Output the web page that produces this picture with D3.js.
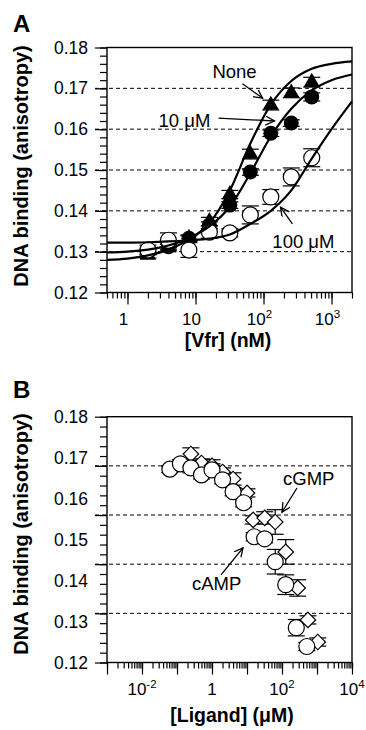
<!DOCTYPE html>
<html>
<head>
<meta charset="utf-8">
<script src="https://cdn.jsdelivr.net/npm/d3@7"></script>
<style>
  body { margin: 0; background: #fff; }
  svg { display: block; }
  text { font-family: "Liberation Sans", Arial, Helvetica, sans-serif; }
</style>
</head>
<body>
<svg id="fig" width="366" height="730"></svg>
<script>
// ---- Panel A data: anisotropy vs [Vfr] (nM) ----
const vfrNM = [2, 4, 8, 16, 32, 64, 128, 256, 512];
const noneAniso = [0.1292, 0.1310, 0.1333, 0.1374, 0.1440, 0.1539, 0.1659, 0.1689, 0.1715];
const noneErr   = [0.0008, 0.0008, 0.0008, 0.0010, 0.0010, 0.0012, 0.0012, 0.0012, 0.0012];
const cAMP10Aniso = [0.1300, 0.1312, 0.1333, 0.1365, 0.1414, 0.1495, 0.1590, 0.1615, 0.1679];
const cAMP10Err   = [0.0006, 0.0006, 0.0006, 0.0008, 0.0008, 0.0008, 0.0008, 0.0008, 0.0010];
const cAMP100Aniso = [0.1304, 0.1328, 0.1304, 0.1348, 0.1346, 0.1390, 0.1434, 0.1483, 0.1530];
const cAMP100Err   = [0.0012, 0.0018, 0.0018, 0.0015, 0.0010, 0.0022, 0.0018, 0.0022, 0.0022];

// fitted curves
const fitVfr  = [0.5, 1, 2, 4, 8, 16, 32, 64, 128, 256, 512, 1000, 2000];
const fitNone = [0.1280, 0.1283, 0.1291, 0.1305, 0.1330, 0.1370, 0.1450, 0.1565, 0.1660, 0.1718, 0.1748, 0.1760, 0.1766];
const fit10   = [0.1298, 0.1300, 0.1305, 0.1315, 0.1333, 0.1362, 0.1410, 0.1492, 0.1582, 0.1650, 0.1695, 0.1720, 0.1734];
const fit100  = [0.1322, 0.1322, 0.1323, 0.1325, 0.1328, 0.1332, 0.1342, 0.1368, 0.1400, 0.1450, 0.1528, 0.1600, 0.1668];

// ---- Panel B data: anisotropy vs [ligand] (uM) ----
const campUM = [0.0625, 0.125, 0.25, 0.5, 1, 2, 4, 8, 16, 32, 64, 128, 256, 512];
const campAniso = [0.1672, 0.1685, 0.1675, 0.1658, 0.1670, 0.1646, 0.1617, 0.1590, 0.1507, 0.1502, 0.1446, 0.1390, 0.1285, 0.1239];
const campErr   = [0.0008, 0.0010, 0.0012, 0.0010, 0.0015, 0.0010, 0.0010, 0.0010, 0.0010, 0.0010, 0.0030, 0.0024, 0.0020, 0.0010];
const cgmpUM = [0.25, 0.5, 1, 2, 4, 10, 15, 32, 64, 128, 280, 550, 1050];
const cgmpAniso = [0.1709, 0.1687, 0.1680, 0.1665, 0.1648, 0.1614, 0.1548, 0.1553, 0.1543, 0.1470, 0.1382, 0.1304, 0.1250];
const cgmpErr   = [0.0015, 0.0010, 0.0015, 0.0010, 0.0015, 0.0010, 0.0010, 0.0015, 0.0030, 0.0030, 0.0020, 0.0010, 0.0010];

// ---- tick labels ----
const yLabelsA = [0.12, 0.13, 0.14, 0.15, 0.16, 0.17, 0.18];
const yLabelsB = [0.12, 0.13, 0.14, 0.15, 0.16, 0.17, 0.18];
const yTicksB  = [0.12, 0.132, 0.144, 0.156, 0.168, 0.18];
const xLabelVA = [1, 10, 100, 1000];
const xLabelBA = ["1", "10", "10", "10"];
const xLabelEA = ["", "", "2", "3"];
const xLabelVB = [0.01, 1, 100, 10000];
const xLabelBB = ["10", "1", "10", "10"];
const xLabelEB = ["-2", "", "2", "4"];

const svg = d3.select("#fig");
const left = 107, right = 352;

svg.append("defs").append("marker")
    .attr("id", "arrow")
    .attr("markerUnits", "userSpaceOnUse")
    .attr("markerWidth", 12).attr("markerHeight", 12)
    .attr("refX", 9).attr("refY", 4.5)
    .attr("orient", "auto")
  .append("path")
    .attr("d", "M0,0 L9,4.5 L0,9")
    .attr("fill", "none").attr("stroke", "black").attr("stroke-width", 1.3);

function minorDecades(lo, hi) {
  const out = [];
  for (let e = Math.floor(Math.log10(lo)); e <= Math.ceil(Math.log10(hi)); e++) {
    for (let k = 1; k <= 9; k++) {
      const v = k * Math.pow(10, e);
      if (v >= lo * 0.999 && v <= hi * 1.001) out.push(v);
    }
  }
  return out;
}

function drawAxes(x, y, o) {
  const top = y.range()[1], bottom = y.range()[0];
  const g = svg.append("g");

  // dashed reference lines, they run out past the axis like ticks
  g.selectAll(".dash").data(o.dashed).join("line")
    .attr("x1", left - 12).attr("x2", right)
    .attr("y1", d => y(d)).attr("y2", d => y(d))
    .attr("stroke", "black").attr("stroke-width", 1)
    .attr("stroke-dasharray", "4,3");

  const clean = a => { a.select(".domain").remove(); a.selectAll("line").attr("stroke-width", 1.2); };

  g.append("g").attr("transform", `translate(${left},0)`)
    .call(d3.axisLeft(y).tickValues(o.yMinor).tickSize(7).tickFormat("")).call(clean);
  g.append("g").attr("transform", `translate(${left},0)`)
    .call(d3.axisLeft(y).tickValues(o.yMajor).tickSize(12).tickFormat("")).call(clean);
  g.append("g").attr("transform", `translate(${left},0)`)
    .call(d3.axisLeft(y).tickValues(o.yLabels).tickSize(0).tickPadding(19).tickFormat(d3.format(".2f")))
    .call(clean)
    .attr("font-size", 17.5).attr("font-family", null);

  g.append("g").attr("transform", `translate(0,${bottom})`)
    .call(d3.axisBottom(x).tickValues(o.xMinor).tickSize(6).tickFormat("")).call(clean);
  g.append("g").attr("transform", `translate(0,${bottom})`)
    .call(d3.axisBottom(x).tickValues(o.xMajor).tickSize(12).tickFormat("")).call(clean);

  const lab = g.selectAll(".xl").data(o.xVals).join("text")
    .attr("x", d => x(d) + o.dx)
    .attr("y", bottom + 32)
    .attr("text-anchor", "middle")
    .attr("font-size", 17);
  lab.append("tspan").text((d, i) => o.xBase[i]);
  lab.append("tspan").attr("dy", -7).attr("font-size", 11.5).text((d, i) => o.xExp[i]);

  g.append("rect")
    .attr("x", left).attr("y", top)
    .attr("width", right - left).attr("height", bottom - top)
    .attr("fill", "none").attr("stroke", "black").attr("stroke-width", 1.4);
  return g;
}

function errorBars(g, x, y, xs, ys, es) {
  const sel = g.append("g").selectAll("g").data(xs).join("g")
    .attr("stroke", "black").attr("stroke-width", 1.2);
  sel.append("line")
    .attr("x1", d => x(d)).attr("x2", d => x(d))
    .attr("y1", (d, i) => y(ys[i] - es[i])).attr("y2", (d, i) => y(ys[i] + es[i]));
  [1, -1].forEach(s => {
    sel.append("line")
      .attr("x1", d => x(d) - 8.5).attr("x2", d => x(d) + 8.5)
      .attr("y1", (d, i) => y(ys[i] + s * es[i])).attr("y2", (d, i) => y(ys[i] + s * es[i]));
  });
}

function annotate(x, y, txt, tx, ty, anchor, a) {
  svg.append("text").attr("x", x(tx)).attr("y", y(ty))
    .attr("text-anchor", anchor).attr("font-size", 18.5).text(txt);
  svg.append("line")
    .attr("x1", x(a[0])).attr("y1", y(a[1]))
    .attr("x2", x(a[2])).attr("y2", y(a[3]))
    .attr("stroke", "black").attr("stroke-width", 1.3)
    .attr("marker-end", "url(#arrow)");
}

// ================= Panel A =================
const xA = d3.scaleLog().domain([0.5, 2000]).range([left, right]);
const yA = d3.scaleLinear().domain([0.12, 0.18]).range([292.5, 47.5]);

drawAxes(xA, yA, {
  dashed: [0.13, 0.14, 0.15, 0.16, 0.17],
  yMinor: d3.range(0, 31).map(i => 0.12 + i * 0.002),
  yMajor: yLabelsA,
  yLabels: yLabelsA,
  xMinor: minorDecades(0.5, 2000),
  xMajor: [1, 10, 100, 1000],
  xVals: xLabelVA, xBase: xLabelBA, xExp: xLabelEA, dx: -4
});

const gA = svg.append("g");
errorBars(gA, xA, yA, vfrNM, noneAniso, noneErr);
errorBars(gA, xA, yA, vfrNM, cAMP10Aniso, cAMP10Err);
errorBars(gA, xA, yA, vfrNM, cAMP100Aniso, cAMP100Err);

gA.append("g").selectAll("path").data(vfrNM).join("path")
  .attr("d", d3.symbol(d3.symbolTriangle).size(115))
  .attr("transform", (d, i) => `translate(${xA(d)},${yA(noneAniso[i])})`)
  .attr("fill", "black");
gA.append("g").selectAll("circle").data(vfrNM).join("circle")
  .attr("cx", d => xA(d)).attr("cy", (d, i) => yA(cAMP10Aniso[i]))
  .attr("r", 7.5).attr("fill", "black");
gA.append("g").selectAll("circle").data(vfrNM).join("circle")
  .attr("cx", d => xA(d)).attr("cy", (d, i) => yA(cAMP100Aniso[i]))
  .attr("r", 8).attr("fill", "white").attr("stroke", "black").attr("stroke-width", 1.2);

const fitLine = ys => d3.line()
  .x(d => xA(d)).y((d, i) => yA(ys[i]))
  .curve(d3.curveMonotoneX)(fitVfr);
[fitNone, fit10, fit100].forEach(ys => {
  gA.append("path").attr("d", fitLine(ys))
    .attr("fill", "none").attr("stroke", "black").attr("stroke-width", 2.2);
});

annotate(xA, yA, "None", 37.5, 0.1725, "middle", [49, 0.1711, 97, 0.1676]);
annotate(xA, yA, "10 \u03bcM", 2.86, 0.1605, "start", [21.8, 0.1627, 145, 0.1620]);
annotate(xA, yA, "100 \u03bcM", 135, 0.1309, "start", [266, 0.1368, 178, 0.1409]);

// ================= Panel B =================
const xB = d3.scaleLog().domain([0.001, 10000]).range([left, right]);
const yB = d3.scaleLinear().domain([0.12, 0.18]).range([662.5, 416.7]);

drawAxes(xB, yB, {
  dashed: [0.132, 0.144, 0.156, 0.168],
  yMinor: d3.range(0, 26).map(i => 0.12 + i * 0.0024),
  yMajor: yTicksB,
  yLabels: yLabelsB,
  xMinor: minorDecades(0.001, 10000),
  xMajor: [0.001, 0.01, 0.1, 1, 10, 100, 1000, 10000],
  xVals: xLabelVB, xBase: xLabelBB, xExp: xLabelEB, dx: 0
});

const gB = svg.append("g");
errorBars(gB, xB, yB, cgmpUM, cgmpAniso, cgmpErr);
errorBars(gB, xB, yB, campUM, campAniso, campErr);

gB.append("g").selectAll("path").data(cgmpUM).join("path")
  .attr("d", d3.symbol(d3.symbolSquare).size(120))
  .attr("transform", (d, i) => `translate(${xB(d)},${yB(cgmpAniso[i])}) rotate(45)`)
  .attr("fill", "white").attr("stroke", "black").attr("stroke-width", 1.2);
gB.append("g").selectAll("circle").data(campUM).join("circle")
  .attr("cx", d => xB(d)).attr("cy", (d, i) => yB(campAniso[i]))
  .attr("r", 8).attr("fill", "white").attr("stroke", "black").attr("stroke-width", 1.2);

annotate(xB, yB, "cGMP", 107, 0.1633, "start", [268, 0.1626, 100, 0.1567]);
annotate(xB, yB, "cAMP", 0.268, 0.1377, "start", [1.81, 0.1414, 7.7, 0.1480]);

// ================= titles =================
svg.append("text").attr("x", 13).attr("y", 32)
  .attr("font-size", 24).attr("font-weight", "bold").text("A");
svg.append("text").attr("x", 13).attr("y", 398)
  .attr("font-size", 24).attr("font-weight", "bold").text("B");

[166, 534].forEach(cy => {
  svg.append("text")
    .attr("transform", `translate(28,${cy}) rotate(-90)`)
    .attr("text-anchor", "middle")
    .attr("font-size", 20).attr("font-weight", "bold")
    .text("DNA binding (anisotropy)");
});

svg.append("text").attr("x", 228).attr("y", 347)
  .attr("text-anchor", "middle").attr("font-size", 19.5).attr("font-weight", "bold")
  .text("[Vfr] (nM)");
svg.append("text").attr("x", 232).attr("y", 722)
  .attr("text-anchor", "middle").attr("font-size", 19.5).attr("font-weight", "bold")
  .text("[Ligand] (\u03bcM)");
</script>
</body>
</html>
